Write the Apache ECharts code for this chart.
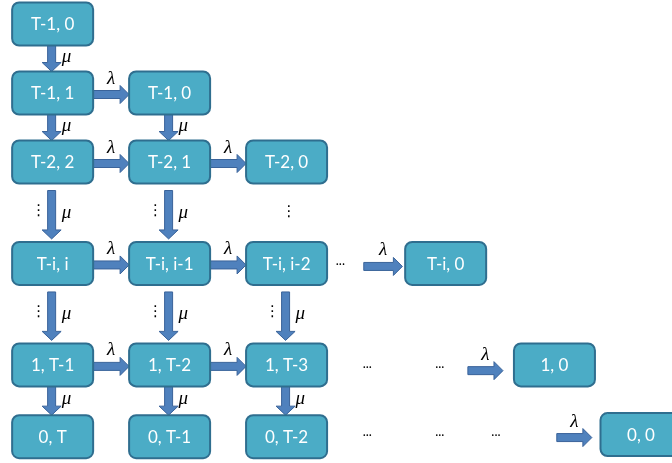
<!DOCTYPE html>
<html><head><meta charset="utf-8">
<script src="https://cdn.jsdelivr.net/npm/echarts@6/dist/echarts.min.js"></script>
<style>html,body{margin:0;padding:0;background:#fff}#c{width:672px;height:463px}</style>
</head><body><div id="c"></div>
<script>
// ---- diagram data (logical grid units: column index, row index) ----
const nodeLabels = ['T-1, 0','T-1, 1','T-1, 0','T-2, 2','T-2, 1','T-2, 0','T-i, i','T-i, i-1','T-i, i-2','T-i, 0','1, T-1','1, T-2','1, T-3','1, 0','0, T','0, T-1','0, T-2','0, 0'];
const nodeCol = [0, 0, 1, 0, 1, 2, 0, 1, 2, 3.36, 0, 1, 2, 4.29, 0, 1, 2, 5.03];
const nodeRow = [0, 1, 1, 2, 2, 2, 3.47, 3.47, 3.47, 3.47, 4.94, 4.94, 4.94, 4.94, 5.98, 5.98, 5.98, 5.95];
// vertical (mu) transitions: [fromNode, toNode]
const muEdges = [[0,1],[1,3],[2,4],[10,14],[11,15],[12,16]];
const muDottedEdges = [[3,6],[6,10],[4,7],[7,11],[8,12]];
// horizontal (lambda) transitions between nodes
const lambdaEdges = [[1,2],[3,4],[4,5],[6,7],[7,8],[10,11],[11,12]];
// free lambda arrows: start column, end column, row
const lambdaFreeFrom = [2.66, 3.55, 4.31];
const lambdaFreeTo = [2.99, 3.85, 4.61];
const lambdaFreeRow = [3.47, 4.98, 5.95];
// ellipses
const hEllipsisCol = [2.46, 2.69, 3.31, 2.69, 3.31, 3.79];
const hEllipsisRow = [3.47, 4.97, 4.97, 5.96, 5.96, 5.96];
const vEllipsisCol = [2.02];
const vEllipsisRow = [2.72];
const muLabel = 'μ';
const lambdaLabel = 'λ';

// ---- build series data ----
const nodeData = nodeLabels.map((l, i) => [nodeCol[i], nodeRow[i], l]);
const vArrowData = muEdges.map(e => [nodeCol[e[0]], nodeRow[e[0]], nodeRow[e[1]], 0])
  .concat(muDottedEdges.map(e => [nodeCol[e[0]], nodeRow[e[0]], nodeRow[e[1]], 1]));
const hArrowData = lambdaEdges.map(e => [nodeCol[e[0]], nodeCol[e[1]], nodeRow[e[0]], 1])
  .concat(lambdaFreeFrom.map((f, i) => [f, lambdaFreeTo[i], lambdaFreeRow[i], 0]));
const hEllData = hEllipsisCol.map((c, i) => [c, hEllipsisRow[i], '...']);
const vEllData = vEllipsisCol.map((c, i) => [c, vEllipsisRow[i], '⋮']);

const BOX_W = 81, BOX_H = 43;
const ARROW_FILL = '#4F81BD', ARROW_STROKE = '#3A639A';
const labelFont = 'italic 19px "Liberation Serif", "DejaVu Serif", serif';

const chart = echarts.init(document.getElementById('c'), null, {renderer: 'canvas'});
chart.setOption({
  animation: false,
  backgroundColor: '#ffffff',
  grid: {left: 0, right: 0, top: 0, bottom: 0},
  xAxis: {type: 'value', min: -0.45, max: 5.295, show: false},
  yAxis: {type: 'value', min: -0.348, max: 6.362, inverse: true, show: false},
  series: [
    {
      type: 'custom', name: 'vArrows', data: vArrowData,
      encode: {x: 0, y: [1, 2]},
      renderItem: function (params, api) {
        const dotted = api.value(3);
        const p1 = api.coord([api.value(0), api.value(1)]);
        const p2 = api.coord([api.value(0), api.value(2)]);
        const x = p1[0] - 1;
        const y1 = p1[1] + BOX_H / 2 + (dotted ? 7 : 0);
        const y2 = p2[1] - BOX_H / 2 - (dotted ? 3 : 0);
        const hl = 9, sw = 4, hw = 9.5;
        const children = [{
          type: 'polygon',
          shape: {points: [[x - sw, y1], [x + sw, y1], [x + sw, y2 - hl], [x + hw, y2 - hl], [x, y2], [x - hw, y2 - hl], [x - sw, y2 - hl]]},
          style: {fill: ARROW_FILL, stroke: ARROW_STROKE, lineWidth: 1}
        }, {
          type: 'text',
          style: {x: x + 10, y: (y1 + y2) / 2 - 2, text: muLabel, font: labelFont, fill: '#000', align: 'left', verticalAlign: 'middle'}
        }];
        if (dotted) {
          children.push({
            type: 'text',
            style: {x: x - 13, y: (y1 + y2) / 2 - 4, text: '⋮', font: '15px "DejaVu Sans", sans-serif', fill: '#000', align: 'center', verticalAlign: 'middle'}
          });
        }
        return {type: 'group', children: children};
      }
    },
    {
      type: 'custom', name: 'hArrows', data: hArrowData,
      encode: {x: [0, 1], y: 2},
      renderItem: function (params, api) {
        const fromNode = api.value(3);
        const p1 = api.coord([api.value(0), api.value(2)]);
        const p2 = api.coord([api.value(1), api.value(2)]);
        const y = p1[1] + (fromNode ? 1.5 : 3);
        const x1 = p1[0] + (fromNode ? BOX_W / 2 : 0);
        const x2 = p2[0] - (fromNode ? BOX_W / 2 : 0);
        const hl = 9, sw = 4, hw = 9;
        return {type: 'group', children: [{
          type: 'polygon',
          shape: {points: [[x1, y - sw], [x2 - hl, y - sw], [x2 - hl, y - hw], [x2, y], [x2 - hl, y + hw], [x2 - hl, y + sw], [x1, y + sw]]},
          style: {fill: ARROW_FILL, stroke: ARROW_STROKE, lineWidth: 1}
        }, {
          type: 'text',
          style: {x: (x1 + x2) / 2, y: y - 16, text: lambdaLabel, font: labelFont, fill: '#000', align: 'center', verticalAlign: 'middle'}
        }]};
      }
    },
    {
      type: 'custom', name: 'nodes', data: nodeData,
      encode: {x: 0, y: 1},
      renderItem: function (params, api) {
        const p = api.coord([api.value(0), api.value(1)]);
        const label = nodeLabels[params.dataIndex];
        return {type: 'group', children: [{
          type: 'rect',
          shape: {x: p[0] - BOX_W / 2, y: p[1] - BOX_H / 2, width: BOX_W, height: BOX_H, r: 7},
          style: {fill: '#4BACC6', stroke: '#2F6E8F', lineWidth: 2}
        }, {
          type: 'text',
          style: {x: p[0], y: p[1] + 1, text: label, font: '17px Lato, "Open Sans", sans-serif', fill: '#ffffff', align: 'center', verticalAlign: 'middle'}
        }]};
      }
    },
    {
      type: 'custom', name: 'hEllipsis', data: hEllData,
      encode: {x: 0, y: 1},
      renderItem: function (params, api) {
        const p = api.coord([api.value(0), api.value(1)]);
        return {type: 'text', style: {x: p[0], y: p[1] - 3, text: hEllData[params.dataIndex][2], font: '13px Lato, sans-serif', fill: '#000', align: 'center', verticalAlign: 'middle'}};
      }
    },
    {
      type: 'custom', name: 'vEllipsis', data: vEllData,
      encode: {x: 0, y: 1},
      renderItem: function (params, api) {
        const p = api.coord([api.value(0), api.value(1)]);
        return {type: 'text', style: {x: p[0], y: p[1], text: vEllData[params.dataIndex][2], font: '15px "DejaVu Sans", sans-serif', fill: '#000', align: 'center', verticalAlign: 'middle'}};
      }
    }
  ]
});
</script></body></html>
